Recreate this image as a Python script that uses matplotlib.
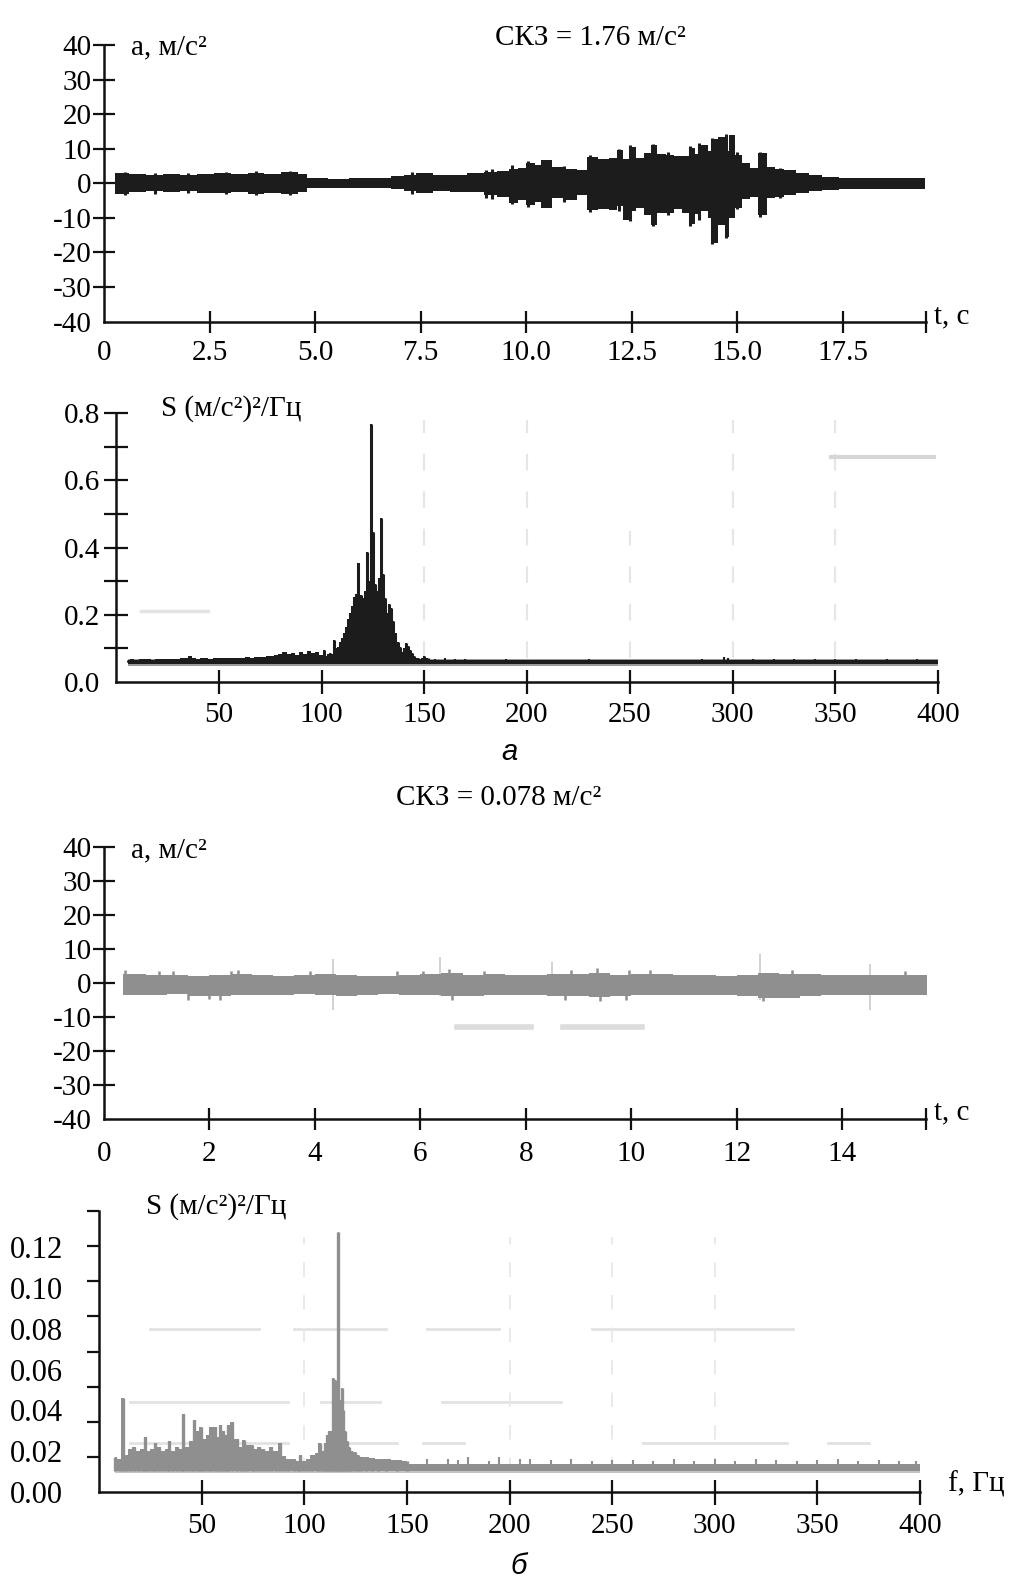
import matplotlib
matplotlib.use('Agg')
import matplotlib.pyplot as plt
import numpy as np

plt.rcParams['font.family'] = ['Liberation Serif', 'DejaVu Serif']
plt.rcParams['axes.unicode_minus'] = False

# ---------------- data ----------------
# (a) time signal: envelope of acceleration, m/s^2
t1 = [0.27, 0.6, 1.0, 1.4, 1.8, 2.2, 2.6, 3.0, 3.4, 3.8, 4.2, 4.6, 4.8, 5.3, 5.8,
      6.3, 6.8, 7.1, 7.4, 7.8, 8.2, 8.6, 9.0, 9.3, 9.6, 9.8, 10.0, 10.2, 10.35,
      10.6, 10.9, 11.2, 11.45, 11.7, 11.95, 12.15, 12.3, 12.45, 12.6, 12.8, 12.95,
      13.1, 13.3, 13.5, 13.7, 13.85, 14.0, 14.15, 14.3, 14.45, 14.55, 14.7, 14.8,
      14.95, 15.1, 15.3, 15.5, 15.7, 15.9, 16.1, 16.4, 16.7, 17.0, 17.4, 17.8,
      18.2, 18.6, 19.0, 19.45]
hi1 = [3.0, 2.6, 2.4, 2.7, 2.3, 2.8, 2.9, 2.6, 3.1, 2.8, 3.2, 2.7, 1.6, 1.4, 1.7,
       1.6, 2.0, 2.5, 3.0, 2.4, 2.4, 3.0, 3.4, 3.6, 4.3, 4.6, 6.0, 5.2, 6.8,
       4.8, 4.3, 3.9, 7.7, 7.2, 7.5, 9.7, 7.0, 10.6, 7.5, 8.7, 11.1,
       8.5, 8.2, 7.8, 8.0, 10.2, 8.5, 11.1, 9.5, 13.0, 13.5, 9.5, 14.0,
       8.2, 6.0, 4.5, 8.7, 4.8, 4.3, 3.9, 2.9, 2.4, 1.9, 1.7, 1.5,
       1.6, 1.5, 1.6, 1.5]
lo1 = [-3.2, -2.4, -2.2, -2.6, -2.1, -2.7, -2.8, -2.4, -3.0, -2.7, -3.0, -2.5, -1.3, -1.2, -1.4,
       -1.3, -1.7, -2.3, -2.9, -2.2, -2.4, -2.6, -3.4, -4.0, -5.8, -4.8, -6.3, -5.5, -7.2,
       -4.3, -4.8, -3.4, -7.7, -7.5, -7.7, -6.5, -10.6, -8.0, -7.0, -9.2, -12.1,
       -8.5, -8.7, -7.5, -8.7, -11.8, -9.0, -8.0, -10.0, -17.4, -12.0, -15.5, -10.0,
       -7.0, -4.5, -3.9, -9.2, -4.3, -3.9, -3.4, -2.9, -2.2, -1.8, -1.7, -1.7,
       -1.6, -1.7, -1.6, -1.6]
# short spikes sticking out of the envelope of (a)
spike1_t = [0.5, 1.2, 2.0, 2.9, 3.6, 4.4, 7.3, 9.05, 9.2, 9.67, 10.05, 10.9, 11.5,
            12.2, 12.47, 13.0, 13.35, 13.87, 14.1, 14.4, 14.74, 15.0, 15.53, 16.0]
spike1_hi = [3.4, 3.1, 3.0, 3.3, 3.6, 3.5, 3.4, 4.0, 4.2, 5.4, 6.6, 5.0, 8.2,
             10.0, 11.0, 11.5, 9.0, 10.8, 11.6, 13.2, 14.3, 9.0, 9.0, 4.6]
spike1_lo = [-3.4, -3.0, -2.9, -3.2, -3.4, -3.5, -3.2, -4.2, -4.6, -6.0, -6.8, -5.3, -8.2,
             -8.0, -10.8, -12.4, -9.2, -12.2, -10.5, -17.6, -15.8, -7.5, -9.6, -4.2]

# (a) spectrum, (m/s^2)^2/Hz
f2 = [6, 8, 10, 12, 14, 16, 18, 20, 22, 24, 26, 28, 30, 32, 34, 36, 38, 40, 42, 44,
      46, 48, 50, 52, 54, 56, 58, 60, 62, 64, 66, 68, 70, 72, 74, 76, 78, 80, 82, 84,
      86, 88, 90, 92, 94, 96, 98,
      100, 101, 102, 103, 104, 105, 106, 107, 108, 109, 110, 111, 112, 113, 114, 115,
      116, 117, 118, 119, 120, 121, 122, 123, 124, 125, 126, 127, 128, 129, 130, 131,
      132, 133, 134, 135, 136, 137, 138, 139, 140, 141, 142, 143, 144, 145, 146, 147,
      148, 149, 150, 151, 152]
s2 = [0.066, 0.068, 0.066, 0.067, 0.069, 0.067, 0.066, 0.068, 0.067, 0.069, 0.068, 0.067,
      0.069, 0.070, 0.072, 0.078, 0.070, 0.069, 0.070, 0.071, 0.069, 0.070, 0.071, 0.070,
      0.072, 0.071, 0.070, 0.072, 0.071, 0.073, 0.072, 0.074, 0.075, 0.073, 0.076, 0.078,
      0.080, 0.083, 0.088, 0.082, 0.087, 0.080, 0.090, 0.083, 0.092, 0.085, 0.088,
      0.080, 0.095, 0.078, 0.082, 0.086, 0.082, 0.125, 0.100, 0.105, 0.120, 0.130, 0.145,
      0.165, 0.187, 0.205, 0.225, 0.254, 0.262, 0.353, 0.260, 0.250, 0.270, 0.388, 0.300,
      0.767, 0.447, 0.290, 0.270, 0.310, 0.487, 0.320, 0.250, 0.205, 0.232, 0.220, 0.180,
      0.145, 0.120, 0.105, 0.090, 0.100, 0.115, 0.108, 0.095, 0.085, 0.076, 0.072, 0.070,
      0.069, 0.071, 0.078, 0.072, 0.070]
f2_hi = [155, 160, 165, 170, 180, 190, 200, 215, 230, 250, 270, 285, 296, 298, 310,
         320, 330, 340, 350, 360, 375, 390]
s2_hi = [0.068, 0.070, 0.067, 0.068, 0.066, 0.067, 0.066, 0.066, 0.067, 0.066, 0.066,
         0.067, 0.075, 0.071, 0.067, 0.068, 0.067, 0.067, 0.068, 0.067, 0.067, 0.067]
floor2 = (0.053, 0.065)

# (б) time signal envelope, m/s^2
t3 = [0.36, 0.8, 1.2, 1.6, 2.0, 2.4, 2.8, 3.2, 3.6, 4.0, 4.4, 4.8, 5.2, 5.6, 6.0, 6.4,
      6.8, 7.2, 7.6, 8.0, 8.4, 8.8, 9.2, 9.6, 10.0, 10.4, 10.8, 11.2, 11.6, 12.0, 12.4,
      12.8, 13.2, 13.6, 14.0, 14.4, 14.8, 15.2, 15.6]
hi3 = [2.6, 2.2, 2.4, 2.1, 2.3, 2.7, 2.2, 2.1, 2.3, 2.5, 2.2, 2.0, 2.1, 2.4, 2.6, 2.9,
       2.4, 2.6, 2.3, 2.2, 2.5, 2.6, 2.9, 2.4, 2.5, 2.6, 2.3, 2.2, 2.1, 2.4, 2.8,
       2.7, 2.5, 2.3, 2.2, 2.4, 2.3, 2.2, 2.2]
lo3 = [-3.6, -3.7, -3.4, -3.8, -4.0, -3.6, -3.5, -3.6, -3.4, -3.7, -3.8, -3.5, -3.4, -3.6,
       -3.7, -3.9, -3.8, -3.5, -3.6, -3.7, -3.8, -3.9, -4.2, -3.8, -3.7, -3.6, -3.5, -3.6,
       -3.7, -4.0, -4.6, -4.4, -3.9, -3.6, -3.5, -3.7, -3.6, -3.5, -3.5]
spike3_up_t = [0.4, 1.05, 1.3, 2.4, 2.55, 3.9, 5.55, 6.05, 6.55, 7.2, 8.85,
               9.35, 9.95, 10.35, 13.05, 15.2]
spike3_up_v = [3.7, 3.3, 3.3, 3.4, 3.6, 3.5, 3.3, 3.4, 4.0, 3.4, 3.6,
               4.4, 3.8, 3.6, 3.6, 3.5]
spike3_dn_t = [1.6, 2.0, 2.2, 6.6, 8.75, 9.4, 9.9, 12.5]
spike3_dn_v = [-5.0, -4.9, -5.0, -5.0, -5.0, -5.3, -5.0, -5.5]
# faint isolated spikes (lighter in the picture)
faint3_t = [4.35, 6.37, 8.5, 12.45, 14.53]
faint3_hi = [7.0, 7.5, 6.0, 8.5, 5.5]
faint3_lo = [-8.0, -4.0, -4.0, -5.0, -8.0]

# (б) spectrum
f4 = [8, 10, 11.5, 13, 15, 17, 19, 21, 22.5, 24, 26, 27.5, 29, 31, 33, 34, 36, 38, 40,
      41, 43, 45, 46.5, 48, 49.5, 51, 53, 54.5, 56.5, 58, 59, 60.5, 62, 63, 65, 67, 69,
      70.5, 72, 74.5, 76, 78, 80, 82, 84, 86, 88, 90, 92, 95, 97, 98, 100, 102, 104, 106,
      107.5, 109, 110, 111, 112, 113, 114, 115, 116, 116.6, 117.5, 118.4, 119, 120, 121,
      122, 123, 124.7, 126, 127.8, 130, 133, 136, 140, 145, 150]
s4 = [0.017, 0.016, 0.046, 0.018, 0.021, 0.022, 0.020, 0.021, 0.027, 0.020, 0.021, 0.024,
      0.022, 0.020, 0.021, 0.025, 0.020, 0.022, 0.021, 0.038, 0.022, 0.025, 0.0355, 0.030,
      0.032, 0.026, 0.028, 0.032, 0.032, 0.027, 0.033, 0.030, 0.028, 0.033, 0.0345, 0.026,
      0.022, 0.0255, 0.023, 0.023, 0.021, 0.022, 0.021, 0.020, 0.022, 0.020, 0.024, 0.0176,
      0.016, 0.016, 0.015, 0.018, 0.015, 0.016, 0.018, 0.019, 0.024, 0.020, 0.024, 0.028,
      0.030, 0.030, 0.056, 0.055, 0.050, 0.1276, 0.045, 0.051, 0.040, 0.030, 0.025, 0.022,
      0.020, 0.0198, 0.018, 0.017, 0.017, 0.0165, 0.016, 0.016, 0.0155, 0.015]
f4_hi = [160, 170, 175, 180, 190, 195, 205, 210, 220, 230, 240, 250, 260, 270, 280, 290,
         300, 310, 320, 330, 340, 350, 360, 370, 380, 390, 398]
s4_hi = [0.016, 0.016, 0.0155, 0.017, 0.015, 0.017, 0.016, 0.016, 0.0155, 0.016, 0.015,
         0.0155, 0.0155, 0.015, 0.016, 0.015, 0.016, 0.015, 0.016, 0.0155, 0.015, 0.0155,
         0.016, 0.015, 0.0155, 0.015, 0.015]
floor4 = (0.0105, 0.0135)

x1_ticks = [2.5, 5.0, 7.5, 10.0, 12.5, 15.0, 17.5]
x3_ticks = [2, 4, 6, 8, 10, 12, 14]
f_ticks = [50, 100, 150, 200, 250, 300, 350, 400]
a_ticks = [-40, -30, -20, -10, 0, 10, 20, 30, 40]
s2_ticks = [0.0, 0.2, 0.4, 0.6, 0.8]
s4_ticks = [0.00, 0.02, 0.04, 0.06, 0.08, 0.10, 0.12]

# ---------------- figure ----------------
W, H = 1011, 1580
fig = plt.figure(figsize=(W / 100, H / 100), dpi=100)
DARK = '#1c1c1c'
GRAY = '#8f8f8f'
AXC = '#111111'
FS = 21


def box(l, t, r, b):
    return [l / W, 1 - b / H, (r - l) / W, (b - t) / H]


def base_style(ax):
    for s in ('top', 'right'):
        ax.spines[s].set_visible(False)
    for s in ('left', 'bottom'):
        ax.spines[s].set_linewidth(1.8)
        ax.spines[s].set_color(AXC)
    ax.patch.set_alpha(0)


def ftxt(x, y, s, **kw):
    fig.text(x / W, 1 - y / H, s, **kw)


# ---- panel 1 ----
ax1 = fig.add_axes(box(104, 45.3, 926, 321.5))
base_style(ax1)
tend1 = 19.47
ax1.set_xlim(0, tend1)
ax1.set_ylim(-40, 40)
ax1.fill_between(t1, lo1, hi1, step='post', color=DARK, lw=0)
ax1.vlines(spike1_t, spike1_lo, spike1_hi, color=DARK, lw=2.2)
ax1.set_xticks([0] + x1_ticks + [tend1])
ax1.set_xticklabels(['0'] + ['%.1f' % v for v in x1_ticks] + [''])
ax1.set_yticks(a_ticks)
ax1.set_yticklabels([str(v) for v in a_ticks])
ax1.tick_params(axis='both', direction='inout', length=16, width=1.6, color=AXC,
                labelsize=FS)
ax1.tick_params(axis='x', pad=5)
ax1.tick_params(axis='y', pad=1)
ax1.xaxis.get_major_ticks()[0].tick1line.set_visible(False)
ax1.yaxis.get_major_ticks()[0].tick1line.set_visible(False)

# ---- panel 2 ----
ax2 = fig.add_axes(box(116, 413, 938, 682))
base_style(ax2)
ax2.set_xlim(0, 400)
ax2.set_ylim(0, 0.8)
# faint scan remnants of grid
for fx in (150, 200, 300, 350):
    ax2.plot([fx, fx], [0.07, 0.78], color='#e6e6e6', lw=1.5, ls=(0, (8, 10)), zorder=0)
ax2.plot([250, 250], [0.07, 0.45], color='#e6e6e6', lw=1.5, ls=(0, (8, 10)), zorder=0)
ax2.plot([348, 398], [0.67, 0.67], color='#d6d6d6', lw=3, zorder=0)
ax2.plot([12, 45], [0.21, 0.21], color='#e4e4e4', lw=2.5, zorder=0)
ax2.fill_between([f2[0], 400], floor2[0] - 0.004, floor2[1] + 0.004, color='#9a9a9a', lw=0)
ax2.fill_between([f2[0], 400], floor2[0], floor2[1], color=DARK, lw=0)
ax2.fill_between(f2, 0.06, s2, step='mid', color=DARK, lw=0)
ax2.vlines(f2, 0.06, s2, color=DARK, lw=2.2)
ax2.vlines(f2_hi, 0.06, s2_hi, color=DARK, lw=1.5)
ax2.set_xticks(f_ticks)
ax2.set_xticklabels([str(v) for v in f_ticks])
ax2.set_yticks(s2_ticks)
ax2.set_yticklabels(['%.1f' % v for v in s2_ticks])
ax2.set_yticks([0.1, 0.3, 0.5, 0.7], minor=True)
ax2.tick_params(axis='both', which='both', direction='inout', length=17, width=1.6,
                color=AXC, labelsize=FS)
ax2.tick_params(axis='x', pad=6)
ax2.tick_params(axis='y', pad=3)
ax2.yaxis.get_major_ticks()[0].tick1line.set_visible(False)

# ---- panel 3 ----
ax3 = fig.add_axes(box(104, 846.7, 926, 1118.7))
base_style(ax3)
tend3 = 15.59
ax3.set_xlim(0, tend3)
ax3.set_ylim(-40, 40)
ax3.plot([6.7, 8.1], [-13, -13], color='#dcdcdc', lw=4, zorder=0)
ax3.plot([8.7, 10.2], [-13, -13], color='#dcdcdc', lw=4, zorder=0)
ax3.vlines(faint3_t, faint3_lo, faint3_hi, color='#cfcfcf', lw=1.3, zorder=1)
ax3.fill_between(t3, lo3, hi3, step='post', color=GRAY, lw=0, zorder=2)
ax3.vlines(spike3_up_t, 0, spike3_up_v, color=GRAY, lw=1.8, zorder=2)
ax3.vlines(spike3_dn_t, spike3_dn_v, 0, color=GRAY, lw=1.8, zorder=2)
ax3.set_xticks([0] + x3_ticks + [tend3])
ax3.set_xticklabels(['0'] + [str(v) for v in x3_ticks] + [''])
ax3.set_yticks(a_ticks)
ax3.set_yticklabels([str(v) for v in a_ticks])
ax3.tick_params(axis='both', direction='inout', length=16, width=1.6, color=AXC,
                labelsize=FS)
ax3.tick_params(axis='x', pad=8)
ax3.tick_params(axis='y', pad=1)
ax3.xaxis.get_major_ticks()[0].tick1line.set_visible(False)
ax3.yaxis.get_major_ticks()[0].tick1line.set_visible(False)

# ---- panel 4 ----
ax4 = fig.add_axes(box(99, 1211, 920, 1492))
base_style(ax4)
ytop4 = 0.1377
ax4.set_xlim(0, 400)
ax4.set_ylim(0, ytop4)
gl = dict(color='#e2e2e2', lw=2, zorder=0)
ax4.plot([25, 78], [0.08, 0.08], **gl)
ax4.plot([95, 140], [0.08, 0.08], **gl)
ax4.plot([160, 195], [0.08, 0.08], **gl)
ax4.plot([240, 338], [0.08, 0.08], **gl)
ax4.plot([15, 92], [0.044, 0.044], **gl)
ax4.plot([108, 137], [0.044, 0.044], **gl)
ax4.plot([167, 225], [0.044, 0.044], **gl)
ax4.plot([15, 92], [0.024, 0.024], **gl)
ax4.plot([118, 145], [0.024, 0.024], **gl)
ax4.plot([158, 178], [0.024, 0.024], **gl)
ax4.plot([265, 335], [0.024, 0.024], **gl)
ax4.plot([355, 375], [0.024, 0.024], **gl)
for fx in (100, 200, 250, 300):
    ax4.plot([fx, fx], [0.01, 0.125], color='#e8e8e8', lw=1.3, ls=(0, (8, 10)), zorder=0)
ax4.fill_between([f4[0], 400], floor4[0] - 0.001, floor4[1], color='#c4c4c4', lw=0)
ax4.fill_between([f4[0], 400], floor4[0], floor4[1], color=GRAY, lw=0)
ax4.fill_between(f4, floor4[0], s4, step='mid', color=GRAY, lw=0)
ax4.vlines(f4, floor4[0], s4, color=GRAY, lw=2.4)
ax4.vlines(f4_hi, floor4[0], s4_hi, color=GRAY, lw=1.5)
ax4.set_xticks(f_ticks)
ax4.set_xticklabels([str(v) for v in f_ticks])
ax4.tick_params(axis='x', direction='inout', length=18, width=1.6, color=AXC,
                labelsize=FS, pad=6)
ax4.set_yticks(s4_ticks)
ax4.set_yticklabels(['%.2f' % v for v in s4_ticks])
ax4.tick_params(axis='y', which='major', length=0, labelsize=22, pad=26)
ax4.set_yticks(list(np.linspace(0, ytop4, 9)[1:]), minor=True)
ax4.tick_params(axis='y', which='minor', direction='out', length=9, width=1.6, color=AXC)

# ---- texts ----
ftxt(590, 38, 'СКЗ = 1.76 м/с²', ha='center', va='center', fontsize=FS)
ftxt(131, 47, 'a, м/с²', ha='left', va='center', fontsize=FS)
ftxt(934, 316, 't, c', ha='left', va='center', fontsize=FS)
ftxt(161, 409, 'S (м/с²)²/Гц', ha='left', va='center', fontsize=FS)
ftxt(509, 752, 'а', ha='center', va='center', fontsize=21, style='italic',
     family=['Liberation Sans', 'DejaVu Sans'])
ftxt(499, 798, 'СКЗ = 0.078 м/с²', ha='center', va='center', fontsize=FS)
ftxt(131, 850, 'a, м/с²', ha='left', va='center', fontsize=FS)
ftxt(934, 1112, 't, c', ha='left', va='center', fontsize=FS)
ftxt(146, 1207, 'S (м/с²)²/Гц', ha='left', va='center', fontsize=FS)
ftxt(948, 1484, 'f, Гц', ha='left', va='center', fontsize=FS)
ftxt(519, 1566, 'б', ha='center', va='center', fontsize=21, style='italic',
     family=['Liberation Sans', 'DejaVu Sans'])

fig.savefig('out.png', dpi=100)
